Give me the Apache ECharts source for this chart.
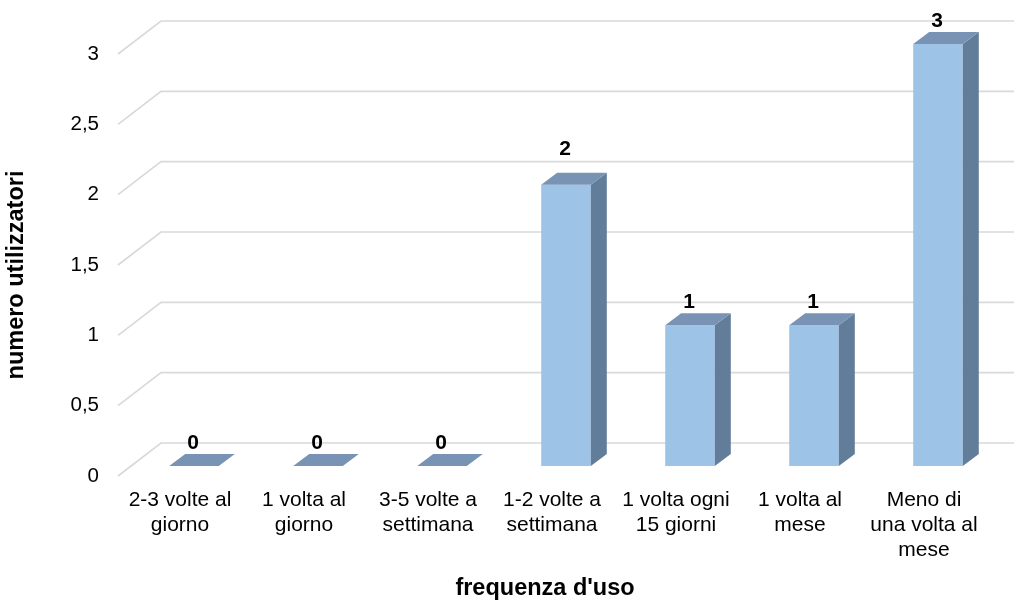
<!DOCTYPE html>
<html>
<head>
<meta charset="utf-8">
<script src="https://cdn.jsdelivr.net/npm/echarts@6/dist/echarts.min.js"></script>
<style>
  html, body { margin: 0; padding: 0; background: #ffffff; }
  #chart { width: 1014px; height: 602px; }
</style>
</head>
<body>
<div id="chart"></div>
<script>
// ---- data ----
const categories = [
  "2-3 volte al\ngiorno",
  "1 volta al\ngiorno",
  "3-5 volte a\nsettimana",
  "1-2 volte a\nsettimana",
  "1 volta ogni\n15 giorni",
  "1 volta al\nmese",
  "Meno di\nuna volta al\nmese"
];
const values = [0, 0, 0, 2, 1, 1, 3];
const yTicks = [0, 0.5, 1, 1.5, 2, 2.5, 3];
const yTickLabels = ["0", "0,5", "1", "1,5", "2", "2,5", "3"];
const xTitle = "frequenza d'uso";
const yTitle = "numero utilizzatori";

// ---- 3D look (pixel offsets of depth) ----
const DEPTH_DX = 43, DEPTH_DY = 33;     // front plane -> back wall
const BAR_DX = 14, BAR_DY = 10;         // front plane -> bar front face
const BAR_DEPTH_DX = 16, BAR_DEPTH_DY = 12; // bar thickness
const labelNudge = { 3: -12 };
const FONT = "'Liberation Sans', Arial, sans-serif";

const chart = echarts.init(document.getElementById('chart'), null, { renderer: 'canvas' });

const option = {
  animation: false,
  backgroundColor: '#ffffff',
  grid: { left: 118, right: 28, top: 54, bottom: 126, containLabel: false },
  xAxis: {
    type: 'category',
    data: categories,
    axisLine: { show: false },
    axisTick: { show: false },
    splitLine: { show: false },
    axisLabel: {
      interval: 0,
      margin: 12,
      fontFamily: FONT,
      fontSize: 21,
      lineHeight: 25,
      color: '#000000',
      align: 'center'
    }
  },
  yAxis: {
    type: 'value',
    min: 0,
    max: 3,
    interval: 0.5,
    axisLine: { show: false },
    axisTick: { show: false },
    splitLine: { show: false },
    axisLabel: {
      margin: 19,
      fontFamily: FONT,
      fontSize: 20.5,
      color: '#000000',
      formatter: function (v) {
        const i = yTicks.indexOf(v);
        return i >= 0 ? yTickLabels[i] : '';
      }
    }
  },
  graphic: [
    {
      type: 'text',
      x: 17, y: 275,
      rotation: Math.PI / 2,
      style: {
        text: yTitle,
        fontFamily: FONT, fontSize: 23.5, fontWeight: 'bold',
        fill: '#000000', align: 'center', verticalAlign: 'middle'
      }
    },
    {
      type: 'text',
      x: 545, y: 589,
      style: {
        text: xTitle,
        fontFamily: FONT, fontSize: 23.5, fontWeight: 'bold',
        fill: '#000000', align: 'center', verticalAlign: 'middle'
      }
    }
  ],
  series: [
    {
      type: 'custom',
      name: 'grid',
      silent: true,
      z: 1,
      data: yTicks.map(v => [0, v]),
      renderItem: function (params, api) {
        const cs = params.coordSys;
        const y = api.coord([0, api.value(1)])[1];
        return {
          type: 'polyline',
          shape: {
            points: [
              [cs.x, y],
              [cs.x + DEPTH_DX, y - DEPTH_DY],
              [api.getWidth(), y - DEPTH_DY]
            ]
          },
          style: { stroke: '#D9D9D9', lineWidth: 1.6, fill: null }
        };
      }
    },
    {
      type: 'custom',
      name: 'bars',
      z: 3,
      data: values.map((v, i) => [i, v]),
      renderItem: function (params, api) {
        const idx = api.value(0);
        const val = api.value(1);
        const top = api.coord([idx, val]);
        const base = api.coord([idx, 0]);
        const w = api.size([1, 0])[0] * 0.4;
        const cx = top[0] + BAR_DX;
        const L = cx - w / 2, R = cx + w / 2;
        const T = top[1] - BAR_DY, B = base[1] - BAR_DY;
        const ddx = BAR_DEPTH_DX, ddy = BAR_DEPTH_DY;
        const children = [];
        if (B - T > 0.5) {
          children.push({
            type: 'rect',
            shape: { x: L, y: T, width: w, height: B - T },
            style: { fill: '#9DC3E6' }
          });
          children.push({
            type: 'polygon',
            shape: { points: [[R, T], [R + ddx, T - ddy], [R + ddx, B - ddy], [R, B]] },
            style: { fill: '#627D99' }
          });
        }
        children.push({
          type: 'polygon',
          shape: { points: [[L, T], [R, T], [R + ddx, T - ddy], [L + ddx, T - ddy]] },
          style: { fill: '#7893B3' }
        });
        const ly = top[1] - DEPTH_DY + (labelNudge[idx] || 0);
        children.push({
          type: 'text',
          x: cx - 1, y: ly,
          style: {
            text: String(val),
            fontFamily: FONT, fontSize: 21, fontWeight: 'bold',
            fill: '#000000', align: 'center', verticalAlign: 'middle'
          }
        });
        return { type: 'group', children: children };
      }
    }
  ]
};

chart.setOption(option);
</script>
</body>
</html>
